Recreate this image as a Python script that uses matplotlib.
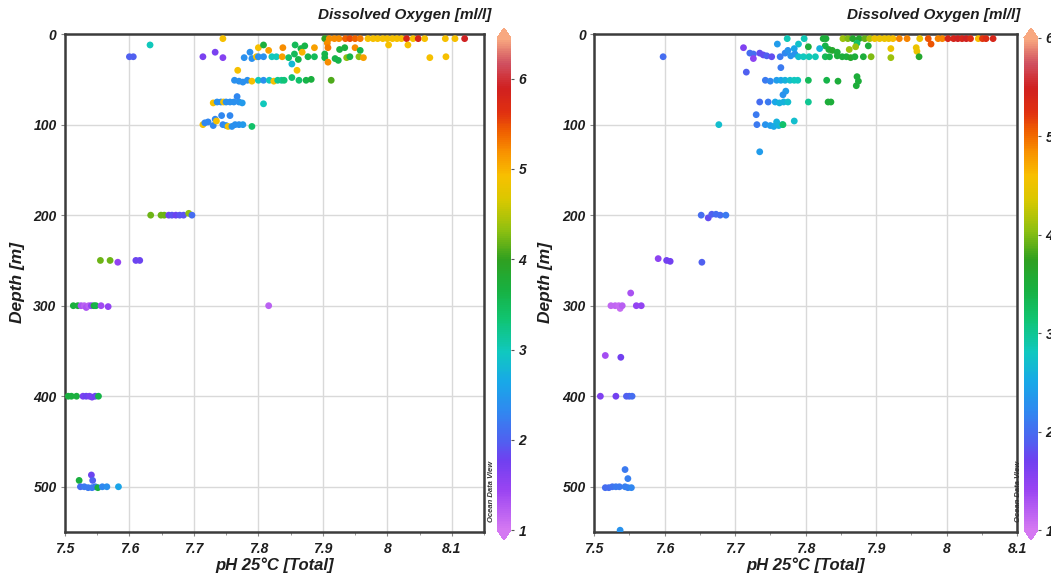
import numpy as np
import matplotlib
matplotlib.use("Agg")
import matplotlib.pyplot as plt
from matplotlib.colors import LinearSegmentedColormap, Normalize
from matplotlib.ticker import MultipleLocator

# ---- left station: pH, depth [m], dissolved oxygen [ml/l] ----
ph_left = [
    7.745, 7.903, 7.910, 7.918, 7.925, 7.935, 7.942, 7.950, 7.958, 7.970, 7.978, 7.985,
    7.993, 8.000, 8.008, 8.015, 8.022, 8.030, 8.040, 8.048, 8.058, 8.090, 8.105, 8.120,
    7.632, 7.800, 7.808, 7.816, 7.838, 7.857, 7.866, 7.872, 7.887, 7.907, 7.908, 7.926,
    7.934, 7.950, 7.958, 8.002, 8.032,
    7.600, 7.606, 7.714, 7.733, 7.745, 7.778, 7.787, 7.790, 7.797, 7.800, 7.808, 7.821,
    7.828, 7.837, 7.847, 7.852, 7.856, 7.862, 7.868, 7.877, 7.887, 7.903, 7.903, 7.908,
    7.919, 7.924, 7.937, 7.942, 7.956, 7.963, 8.066, 8.091,
    7.768, 7.860,
    7.763, 7.770, 7.776, 7.783, 7.790, 7.800, 7.808, 7.817, 7.824, 7.830, 7.836, 7.840,
    7.852, 7.863, 7.874, 7.882, 7.913,
    7.730, 7.736, 7.742, 7.746, 7.750, 7.756, 7.762, 7.767, 7.770, 7.775, 7.808,
    7.714, 7.717, 7.722, 7.730, 7.733, 7.735, 7.743, 7.745, 7.750, 7.753, 7.756, 7.759,
    7.764, 7.770, 7.776, 7.790,
    7.633, 7.649, 7.654, 7.661, 7.666, 7.672, 7.678, 7.684, 7.692, 7.697,
    7.555, 7.570, 7.582, 7.610, 7.616,
    7.513, 7.520, 7.525, 7.530, 7.533, 7.537, 7.541, 7.545, 7.548, 7.556, 7.567, 7.816,
    7.505, 7.510, 7.518, 7.528, 7.533, 7.538, 7.542, 7.547, 7.552,
    7.541, 7.522, 7.543, 7.524, 7.530, 7.536, 7.542, 7.547, 7.551, 7.558, 7.565, 7.583,
]
depth_left = [
    5, 5, 5, 5, 5, 5, 5, 5, 5, 5, 5, 5,
    5, 5, 5, 5, 5, 5, 5, 5, 5, 5, 5, 5,
    12, 15, 12, 18, 15, 12, 16, 13, 15, 10, 15, 17,
    15, 15, 18, 12, 12,
    25, 25, 25, 20, 26, 26, 20, 27, 25, 25, 25, 25,
    25, 25, 26, 33, 22, 28, 20, 25, 25, 22, 26, 31,
    27, 29, 26, 25, 25, 26, 26, 25,
    40, 40,
    51, 52, 53, 51, 52, 51, 51, 51, 52, 51, 51, 51,
    48, 51, 51, 50, 51,
    76, 75, 75, 75, 75, 75, 75, 69, 75, 76, 77,
    100, 98, 97, 101, 94, 96, 90, 100, 101, 102, 90, 102,
    100, 100, 100, 102,
    200, 200, 200, 200, 200, 200, 200, 200, 198, 200,
    250, 250, 252, 250, 250,
    300, 300, 300, 300, 302, 300, 300, 300, 300, 300, 301, 300,
    400, 400, 400, 400, 400, 400, 401, 400, 400,
    487, 493, 493, 500, 500, 501, 501, 500, 501, 500, 500, 500,
]
do_left = [
    4.9, 4.0, 5.2, 5.2, 5.2, 5.4, 5.5, 5.4, 5.3, 4.9, 4.9, 4.9,
    4.9, 4.9, 4.9, 4.9, 4.9, 5.8, 4.9, 5.8, 4.9, 4.9, 4.9, 5.9,
    3.0, 4.9, 3.7, 5.1, 5.2, 3.5, 3.6, 3.6, 5.1, 5.2, 5.3, 3.7,
    3.7, 5.2, 3.6, 4.9, 4.9,
    2.0, 2.0, 1.7, 1.7, 1.6, 2.4, 2.4, 2.4, 4.9, 2.4, 2.4, 3.0,
    3.0, 5.1, 3.4, 2.8, 3.5, 3.6, 5.0, 3.6, 3.5, 3.6, 3.6, 5.2,
    3.6, 3.6, 4.3, 3.6, 4.3, 5.1, 4.9, 4.9,
    4.9, 4.9,
    2.4, 2.4, 2.4, 2.4, 4.9, 3.0, 2.4, 3.0, 4.9, 3.2, 3.2, 3.3,
    3.4, 3.4, 3.6, 3.7, 4.1,
    4.9, 2.4, 2.4, 4.9, 2.4, 2.4, 2.4, 2.3, 2.4, 2.5, 3.0,
    4.9, 2.3, 2.3, 2.3, 2.3, 4.9, 2.3, 2.3, 2.4, 4.9, 2.3, 2.4,
    2.4, 2.4, 2.5, 3.4,
    4.2, 4.2, 4.2, 1.8, 1.9, 1.8, 1.9, 1.9, 4.3, 2.1,
    4.2, 4.2, 1.5, 1.8, 1.8,
    3.7, 3.7, 1.3, 1.2, 1.3, 1.2, 1.5, 3.7, 3.6, 1.4, 1.5, 1.2,
    3.7, 3.7, 3.7, 1.7, 1.8, 1.7, 1.7, 1.8, 3.6,
    1.8, 3.7, 2.0, 2.1, 2.2, 2.2, 2.2, 2.2, 3.7, 2.3, 2.4, 2.6,
]

# ---- right station ----
ph_right = [
    7.774, 7.798, 7.825, 7.829, 7.853, 7.860, 7.867, 7.876, 7.884, 7.891, 7.898, 7.905,
    7.912, 7.918, 7.924, 7.933, 7.944, 7.962, 7.974, 7.988, 7.994, 8.002, 8.010, 8.016,
    8.022, 8.028, 8.034, 8.045, 8.051, 8.056, 8.066,
    7.712, 7.760, 7.790, 7.784, 7.804, 7.828, 7.833, 7.838, 7.845, 7.873, 7.889, 7.862,
    7.871, 7.921, 7.957, 7.958, 7.978, 7.820,
    7.721, 7.726, 7.726, 7.735, 7.740, 7.745, 7.752, 7.764, 7.771, 7.775, 7.779, 7.785,
    7.790, 7.797, 7.805, 7.814, 7.828, 7.834, 7.845, 7.852, 7.858, 7.864, 7.870, 7.882,
    7.893, 7.921, 7.961,
    7.765, 7.716,
    7.743, 7.750, 7.759, 7.765, 7.771, 7.778, 7.784, 7.789, 7.804, 7.830, 7.846, 7.873,
    7.875, 7.872,
    7.772, 7.768, 7.735, 7.747, 7.757, 7.763, 7.769, 7.775, 7.804, 7.832, 7.836,
    7.730, 7.677, 7.731, 7.743, 7.750, 7.755, 7.759, 7.762, 7.767, 7.768, 7.784, 7.735,
    7.598,
    7.652, 7.662, 7.667, 7.673, 7.679, 7.687,
    7.591, 7.603, 7.608, 7.653,
    7.524, 7.530, 7.535, 7.537, 7.540, 7.552, 7.560, 7.567,
    7.516, 7.538,
    7.509, 7.531, 7.546, 7.550, 7.554,
    7.544, 7.548,
    7.516, 7.521, 7.526, 7.531, 7.536, 7.544, 7.548, 7.553,
    7.537,
]
depth_right = [
    5, 5, 5, 5, 5, 5, 5, 5, 5, 5, 5, 5,
    5, 5, 5, 5, 5, 5, 5, 5, 5, 5, 5, 5,
    5, 5, 5, 5, 5, 5, 5,
    15, 11, 11, 16, 14, 13, 17, 18, 20, 10, 13, 17,
    14, 16, 15, 19, 11, 16,
    21, 22, 27, 21, 23, 24, 25, 25, 21, 18, 24, 22,
    25, 25, 25, 25, 25, 25, 24, 25, 25, 26, 25, 25,
    25, 26, 25,
    37, 42,
    51, 52, 51, 51, 51, 51, 51, 51, 51, 51, 52, 47,
    52, 57,
    63, 67, 75, 75, 75, 76, 75, 75, 75, 75, 75,
    89, 100, 100, 100, 101, 102, 97, 101, 100, 100, 96, 130,
    25,
    200, 203, 199, 199, 200, 200,
    248, 250, 251, 252,
    300, 300, 300, 303, 300, 286, 300, 300,
    355, 357,
    400, 400, 400, 400, 400,
    481, 491,
    501, 501, 500, 500, 500, 500, 501, 501,
    548,
]
do_right = [
    2.85, 2.85, 3.5, 3.5, 4.1, 4.0, 3.6, 3.6, 3.9, 4.2, 4.5, 4.5,
    4.5, 4.5, 4.6, 4.9, 4.9, 4.5, 5.1, 4.9, 4.9, 5.4, 5.4, 5.5,
    5.4, 5.5, 5.3, 4.6, 5.2, 5.3, 5.4,
    1.6, 2.4, 2.75, 2.5, 3.5, 3.4, 3.5, 3.6, 3.5, 3.2, 3.5, 4.1,
    4.1, 4.5, 4.5, 4.5, 5.1, 2.6,
    2.0, 2.0, 1.5, 1.8, 1.8, 1.9, 1.8, 2.1, 2.2, 2.3, 2.3, 2.3,
    2.7, 2.8, 2.85, 2.85, 3.3, 3.4, 3.5, 3.5, 3.5, 3.6, 3.5, 3.5,
    4.0, 4.1, 3.6,
    2.1, 1.9,
    2.1, 2.2, 2.4, 2.5, 2.6, 2.7, 2.8, 2.8, 3.3, 3.4, 3.5, 3.5,
    3.5, 3.5,
    2.4, 2.3, 2.0, 2.1, 2.5, 2.6, 2.6, 2.7, 3.0, 3.5, 3.5,
    2.1, 2.7, 2.1, 2.3, 2.4, 2.5, 2.6, 2.6, 2.7, 3.2, 2.7, 2.4,
    2.0,
    2.0, 1.8, 1.9, 2.0, 2.0, 2.1,
    1.5, 1.7, 1.7, 1.9,
    1.15, 1.15, 1.1, 1.1, 1.2, 1.3, 1.45, 1.45,
    1.35, 1.7,
    1.6, 1.7, 1.9, 1.9, 2.0,
    2.1, 2.15,
    2.0, 2.0, 2.05, 2.1, 2.1, 2.15, 2.15, 2.2,
    2.3,
]

x_ticks = [7.5, 7.6, 7.7, 7.8, 7.9, 8.0, 8.1]
x_tick_labels = ["7.5", "7.6", "7.7", "7.8", "7.9", "8", "8.1"]
y_ticks = [0, 100, 200, 300, 400, 500]
cbar_ticks = [1, 2, 3, 4, 5, 6]

# ODV style rainbow
odv_colors = [
    (0.00, "#d478f2"), (0.08, "#9a44f2"), (0.14, "#7040f0"), (0.18, "#5060f0"),
    (0.24, "#3088f0"), (0.30, "#18a8e8"), (0.36, "#10c8c0"), (0.43, "#10c470"),
    (0.49, "#18b040"), (0.55, "#30a020"), (0.61, "#90c010"), (0.67, "#d8c800"),
    (0.72, "#f8c000"), (0.77, "#f89000"), (0.81, "#f06000"), (0.85, "#e03010"),
    (0.90, "#d02020"), (0.95, "#d05060"), (1.00, "#f8a880"),
]
odv = LinearSegmentedColormap.from_list("odv", odv_colors)
odv.set_under("#d478f2")
odv.set_over("#f8a880")

plt.rcParams["font.family"] = ["Liberation Sans", "DejaVu Sans"]
txt_kw = dict(fontweight="bold", fontstyle="italic", color="#1e1e1e")

fig = plt.figure(figsize=(10.51, 5.81), dpi=100)

panels = [
    (ph_left, depth_left, do_left, [0.0618, 0.0843, 0.3987, 0.857], 8.15, 6.45,
     [0.4729, 0.0706, 0.0133, 0.881], 0.4672, 0.017, 0.2617),
    (ph_right, depth_right, do_right, [0.5652, 0.0843, 0.4025, 0.857], 8.1, 6.0,
     [0.9743, 0.0706, 0.0133, 0.881], 0.9705, 0.519, 0.7665),
]

for ph, depth, do, pos, xmax, vmax, cpos, title_x, ylab_x, xlab_x in panels:
    ax = fig.add_axes(pos)
    norm = Normalize(vmin=1, vmax=vmax)
    sc = ax.scatter(ph, depth, c=do, cmap=odv, norm=norm, s=24, linewidths=0, zorder=3)
    ax.set_xlim(7.5, xmax)
    ax.set_ylim(550, 0)
    ax.set_xticks(x_ticks)
    ax.set_xticklabels(x_tick_labels)
    ax.xaxis.set_minor_locator(MultipleLocator(0.05))
    ax.set_yticks(y_ticks)
    ax.grid(True, color="#d9d9d9", linewidth=1.0, zorder=0)
    ax.set_axisbelow(True)
    for s in ax.spines.values():
        s.set_color("#3c3c3c")
        s.set_linewidth(1.8)
    ax.tick_params(axis="both", which="major", length=3, width=0.8, color="#888888",
                   labelsize=10, labelcolor="#1e1e1e", pad=3)
    ax.tick_params(axis="x", which="major", pad=4)
    ax.tick_params(axis="x", which="minor", length=2, width=0.6, color="#888888")
    for lab in ax.get_xticklabels() + ax.get_yticklabels():
        lab.set_fontweight("bold")
        lab.set_fontstyle("italic")

    fig.text(title_x, 0.975, "Dissolved Oxygen [ml/l]", ha="right", va="center",
             fontsize=11, **txt_kw)
    fig.text(ylab_x, 0.513, "Depth [m]", rotation=90, ha="center", va="center",
             fontsize=12.5, **txt_kw)
    fig.text(xlab_x, 0.027, "pH 25\u00b0C [Total]", ha="center", va="center",
             fontsize=12, **txt_kw)

    cax = fig.add_axes(cpos)
    cb = fig.colorbar(sc, cax=cax, extend="both", extendfrac=0.02)
    cb.outline.set_visible(False)
    cb.set_ticks(cbar_ticks)
    cb.set_ticklabels([str(t) for t in cbar_ticks])
    cax.tick_params(length=2.5, width=0.8, color="#555555", labelsize=10,
                    labelcolor="#1e1e1e", pad=3)
    for lab in cax.get_yticklabels():
        lab.set_fontweight("bold")
        lab.set_fontstyle("italic")
    fig.text(cpos[0] - 0.0055, 0.155, "Ocean Data View", rotation=90, ha="center",
             va="center", fontsize=5.5, color="#333333", fontweight="bold",
             fontstyle="italic")

fig.savefig("out.png", dpi=100)
